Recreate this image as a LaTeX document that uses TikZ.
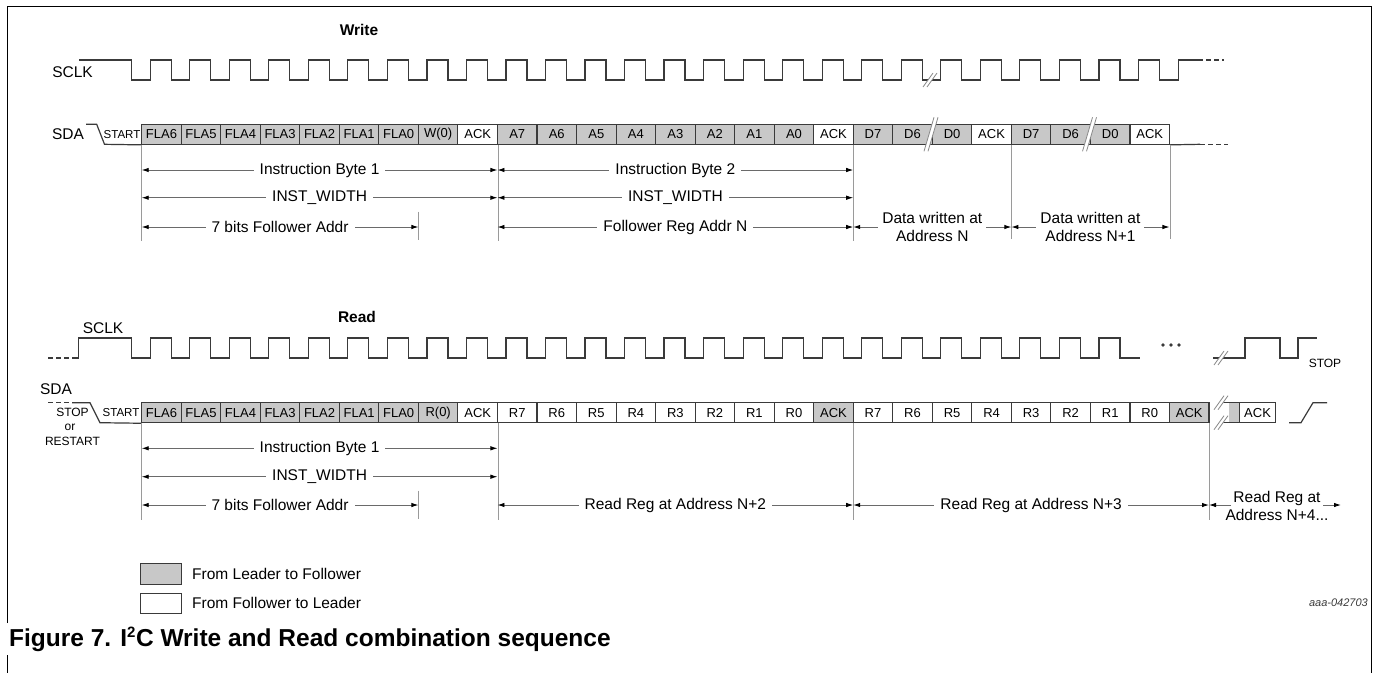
\documentclass[tikz,border=0pt]{standalone}
\usepackage{fontspec}
\setmainfont{Liberation Sans}
\usetikzlibrary{arrows.meta}
\definecolor{cellgray}{HTML}{C8C8C8}
\definecolor{ink}{HTML}{3A3A3A}
\definecolor{markgray}{HTML}{9A9A9A}
\definecolor{dimgray}{HTML}{6A6A6A}
\definecolor{brkgray}{HTML}{8A8A8A}
\newcommand\lblfont{\fontsize{15.5pt}{18pt}\selectfont}
\newcommand\cellfont{\fontsize{13pt}{14pt}\selectfont}
\newcommand\smallfont{\fontsize{12pt}{14pt}\selectfont}
\newcommand\brkmark[3]{%
  \fill[white] ({#1-7},{#3+7}) -- ({#1-3},{#3+7}) -- ({#1+7},{#2-7}) -- ({#1+3},{#2-7}) -- cycle;
  \draw[brk] ({#1-7},{#3+7}) -- ({#1+3},{#2-7});
  \draw[brk] ({#1-3},{#3+7}) -- ({#1+7},{#2-7});}
\begin{document}
\begin{tikzpicture}[x=1pt,y=-1pt,
  every node/.style={inner sep=0pt},
  cellbase/.style={draw=ink, line width=1.1pt, minimum width=39.53pt, minimum height=20pt, font=\cellfont},
  cg/.style={cellbase, fill=cellgray},
  cw/.style={cellbase, fill=white},
  sig/.style={draw=ink, line width=1.2pt, line join=miter},
  sigdash/.style={sig, dash pattern=on 5pt off 3pt},
  marker/.style={draw=markgray, line width=1pt},
  brk/.style={draw=brkgray, line width=0.8pt},
  dimline/.style={draw=dimgray, line width=0.9pt, arrows={Latex[length=7pt,width=4.5pt,color=black]-Latex[length=7pt,width=4.5pt,color=black]}},
  rarrow/.style={draw=dimgray, line width=0.9pt, arrows={-Latex[length=7pt,width=4.5pt,color=black]}},
  dimlabel/.style={fill=white, inner xsep=6pt, inner ysep=2pt, font=\lblfont},
  title/.style={font=\lblfont\bfseries},
  lbl/.style={font=\lblfont},
  frame/.style={draw=black, line width=1pt}
]
\useasboundingbox (0,0) rectangle (1377,673);
% frame
\draw[frame] (7,623) -- (7,6) -- (1371,6) -- (1371,673);
\draw[frame] (7,655) -- (7,673);

%================ WRITE ================
\node[title] (wtitle) at (359,30) {Write};
\node[lbl] (wsclk) at (72.5,72) {SCLK};
\node[lbl] (wsda) at (68,134.3) {SDA};

% clock
\draw[sig] (79,60) -- (131.7,60) -- (131.7,80)
  \foreach \k in {0,...,25} { -- ({141.7+\k*39.53+8.5},80) -- ({141.7+\k*39.53+8.5},60)
     -- ({141.7+\k*39.53+29.5},60) -- ({141.7+\k*39.53+29.5},80) }
  -- (1178.5,80) -- (1178.5,60) -- (1198,60);
\draw[sigdash] (1198,60) -- (1224,60);
\brkmark{930}{80}{80}

% SDA cells
\foreach \t/\f [count=\i from 0] in {FLA6/cg,FLA5/cg,FLA4/cg,FLA3/cg,FLA2/cg,FLA1/cg,FLA0/cg,W(0)/cg,ACK/cw,
  A7/cg,A6/cg,A5/cg,A4/cg,A3/cg,A2/cg,A1/cg,A0/cg,ACK/cw,
  D7/cg,D6/cg,D0/cg,ACK/cw,D7/cg,D6/cg,D0/cg,ACK/cw}
  { \node[\f] (wc\i) at ({141.7+(\i+0.5)*39.53},134.3) {\t}; }
\node[font=\fontsize{11.5pt}{13pt}\selectfont] (wstart) at (122,134.3) {START};
\draw[sig] (86,124.3) -- (96.7,124.3) -- (104.5,144.3) -- (wc0.south west);
\draw[sig] (wc25.south east) -- (1200,144.3);
\draw[sigdash] (1200,144.3) -- (1228,144.3);
\brkmark{931}{124.3}{144.3}
\brkmark{1089.5}{124.3}{144.3}

% markers
\draw[marker] (wc0.south west) -- ++(0,95.7);
\draw[marker] (wc8.south east) -- ++(0,95.7);
\draw[marker] ({141.7+7*39.53},211.7) -- ({141.7+7*39.53},240);
\draw[marker] (wc17.south east) -- ++(0,95.7);
\draw[marker] (wc21.south east) -- ++(0,94);
\draw[marker] (wc25.south east) -- ++(0,94);

% dimension coordinates
\coordinate (W1a) at (141.7,170);
\coordinate (W1b) at ({141.7+9*39.53},170);
\coordinate (W1c) at ({141.7+18*39.53},170);
\coordinate (W2a) at (141.7,197.7);
\coordinate (W2b) at ({141.7+9*39.53},197.7);
\coordinate (W2c) at ({141.7+18*39.53},197.7);
\coordinate (W3a) at (141.7,227);
\coordinate (W3s) at ({141.7+7*39.53},227);
\coordinate (W3b) at ({141.7+9*39.53},227);
\coordinate (W3c) at ({141.7+18*39.53},227);
\coordinate (W3d) at ({141.7+22*39.53},227);
\coordinate (W3e) at ({141.7+26*39.53},227);
\draw[dimline] (W1a) -- node[dimlabel]{Instruction Byte 1} (W1b);
\draw[dimline] (W1b) -- node[dimlabel]{Instruction Byte 2} (W1c);
\draw[dimline] (W2a) -- node[dimlabel]{INST\_WIDTH} (W2b);
\draw[dimline] (W2b) -- node[dimlabel]{INST\_WIDTH} (W2c);
\draw[dimline] (W3a) -- node[dimlabel]{7 bits Follower Addr} (W3s);
\draw[dimline] (W3b) -- node[dimlabel]{Follower Reg Addr N} (W3c);
\draw[dimline] (W3c) -- node[dimlabel, inner xsep=4pt, align=center]{Data written at\\Address N} (W3d);
\draw[dimline] (W3d) -- node[dimlabel, inner xsep=4pt, align=center]{Data written at\\Address N+1} (W3e);

%================ READ ================
\node[title] (rtitle) at (357,317) {Read};
\node[lbl] (rsclk) at (103,328) {SCLK};
\node[lbl] (rsda) at (56,389.3) {SDA};

% clock
\draw[sigdash] (48,358) -- (72,358);
\draw[sig] (72,358) -- (78.3,358) -- (78.3,338) -- (131.7,338) -- (131.7,358)
  \foreach \k in {0,...,24} { -- ({141.7+\k*39.53+8.5},358) -- ({141.7+\k*39.53+8.5},338)
     -- ({141.7+\k*39.53+29.5},338) -- ({141.7+\k*39.53+29.5},358) }
  -- (1140,358);
\foreach \d [count=\j] in {1163,1171,1179} { \fill[ink] (\d,345) circle[radius=1.8]; }
\draw[sig] (1213,358) -- (1245,358) -- (1245,338) -- (1280,338) -- (1280,358) -- (1298,358) -- (1298,338) -- (1317,338);
\brkmark{1221}{358}{358}

% SDA cells
\foreach \t/\f [count=\i from 0] in {FLA6/cg,FLA5/cg,FLA4/cg,FLA3/cg,FLA2/cg,FLA1/cg,FLA0/cg,R(0)/cg,ACK/cw,
  R7/cw,R6/cw,R5/cw,R4/cw,R3/cw,R2/cw,R1/cw,R0/cw,ACK/cg,
  R7/cw,R6/cw,R5/cw,R4/cw,R3/cw,R2/cw,R1/cw,R0/cw,ACK/cg}
  { \node[\f] (rc\i) at ({141.7+(\i+0.5)*39.53},412.7) {\t}; }
\node[font=\fontsize{11.5pt}{13pt}\selectfont] (rstart) at (121,412.7) {START};
\node[font=\smallfont] (rstop) at (72.5,412.7) {STOP};
\node[font=\smallfont] (ror) at (70,427) {or};
\node[font=\smallfont] (rrestart) at (72.5,441.5) {RESTART};
\draw[sigdash] (48,402.7) -- (72,402.7);
\draw[sig] (72,402.7) -- (90,402.7) -- (100,422.7) -- (rc0.south west);
% tail after break
\fill[cellgray] (1229,402.7) rectangle (1239,422.7);
\draw[sig] (1223,402.7) -- (1239,402.7);
\draw[sig] (1223,422.7) -- (1239,422.7);
\node[cw, minimum width=36pt, anchor=west] (rack) at (1239,412.7) {ACK};
\brkmark{1221}{402.7}{402.7}
\brkmark{1221}{422.7}{422.7}
\draw[sig] (1289,422.7) -- (1301,422.7) -- (1313,402.7) -- (1327,402.7);
\node[font=\smallfont] (rstopr) at (1325,363) {STOP};

% markers
\draw[marker] (rc0.south west) -- ++(0,96.3);
\draw[marker] (rc8.south east) -- ++(0,96.3);
\draw[marker] ({141.7+7*39.53},490.7) -- ({141.7+7*39.53},519);
\draw[marker] (rc17.south east) -- ++(0,96.3);
\draw[marker] (rc26.south east) -- ++(0,96.3);

\coordinate (R1a) at (141.7,448.3);
\coordinate (R1b) at ({141.7+9*39.53},448.3);
\coordinate (R2a) at (141.7,476.7);
\coordinate (R2b) at ({141.7+9*39.53},476.7);
\coordinate (R3a) at (141.7,505);
\coordinate (R3s) at ({141.7+7*39.53},505);
\coordinate (R3b) at ({141.7+9*39.53},505);
\coordinate (R3c) at ({141.7+18*39.53},505);
\coordinate (R3d) at ({141.7+27*39.53},505);
\coordinate (N4l) at (1231,505);
\coordinate (N4r) at (1323,505);
\coordinate (N4e) at (1341,505);
\draw[dimline] (R1a) -- node[dimlabel]{Instruction Byte 1} (R1b);
\draw[dimline] (R2a) -- node[dimlabel]{INST\_WIDTH} (R2b);
\draw[dimline] (R3a) -- node[dimlabel]{7 bits Follower Addr} (R3s);
\draw[dimline] (R3b) -- node[dimlabel]{Read Reg at Address N+2} (R3c);
\draw[dimline] (R3c) -- node[dimlabel]{Read Reg at Address N+3} (R3d);
\draw[rarrow] (N4l) -- (R3d);
\draw[rarrow] (N4r) -- (N4e);
\node[lbl, align=center] (n4) at (1277,506) {Read Reg at\\Address N+4...};

%================ LEGEND ================
\node[draw=ink, line width=1pt, fill=cellgray, minimum width=41pt, minimum height=21pt, anchor=north west] (lg1) at (140,563) {};
\node[lbl, anchor=west] (lg1t) at (192,574) {From Leader to Follower};
\node[draw=ink, line width=1pt, fill=white, minimum width=41pt, minimum height=20pt, anchor=north west] (lg2) at (140,593) {};
\node[lbl, anchor=west] (lg2t) at (192,603) {From Follower to Leader};
\node[font=\fontsize{11pt}{13pt}\selectfont\itshape, text=ink, anchor=east] (fid) at (1368,603) {aaa-042703};

%================ CAPTION ================
\node[font=\fontsize{24.5pt}{27pt}\selectfont\bfseries, anchor=west] (cap) at (9,639) {Figure 7. I\textsuperscript{\fontsize{15pt}{15pt}\selectfont 2}C Write and Read combination sequence};
\end{tikzpicture}
\end{document}
